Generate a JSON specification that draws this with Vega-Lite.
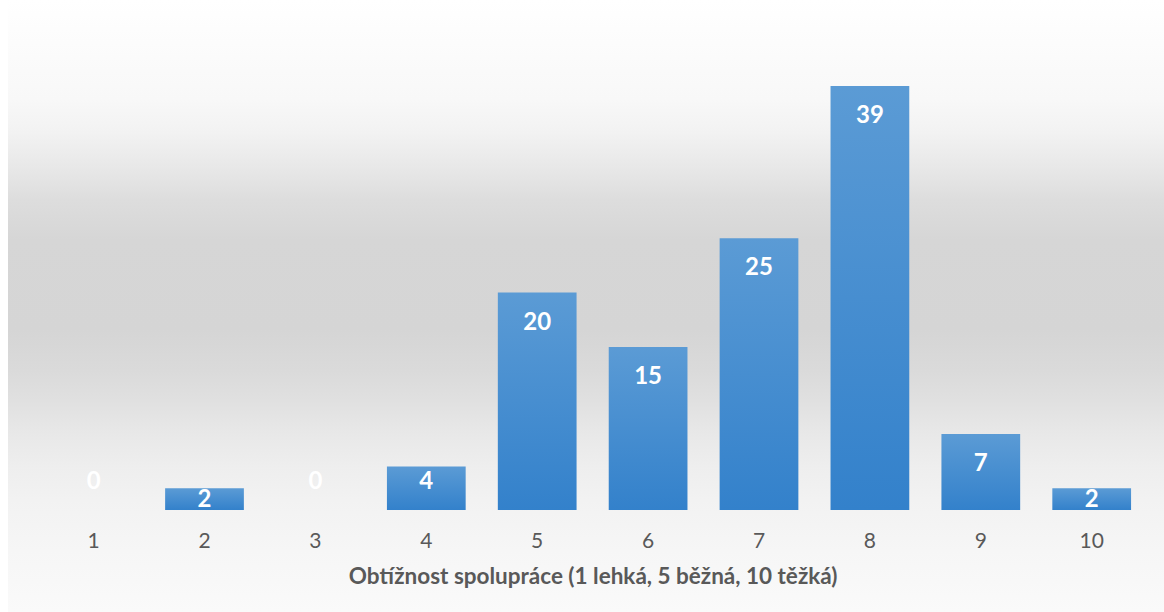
{
  "$schema": "https://vega.github.io/schema/vega-lite/v6.json",
  "width": 1156,
  "height": 612,
  "autosize": "none",
  "padding": {"left": 8, "top": 0, "right": 0, "bottom": 0},
  "background": "#ffffff",
  "view": {
    "stroke": null,
    "fill": {
      "gradient": "linear", "x1": 0, "y1": 0, "x2": 0, "y2": 1,
      "stops": [
        {"offset": 0, "color": "#ffffff"},
        {"offset": 0.163, "color": "#f8f8f8"},
        {"offset": 0.217, "color": "#f2f2f2"},
        {"offset": 0.273, "color": "#e8e8e8"},
        {"offset": 0.327, "color": "#dddddd"},
        {"offset": 0.392, "color": "#d6d6d6"},
        {"offset": 0.539, "color": "#d5d5d5"},
        {"offset": 0.605, "color": "#dadada"},
        {"offset": 0.654, "color": "#e0e0e0"},
        {"offset": 0.708, "color": "#e8e8e8"},
        {"offset": 0.763, "color": "#eeeeee"},
        {"offset": 0.817, "color": "#f2f2f2"},
        {"offset": 0.899, "color": "#f6f6f6"},
        {"offset": 1, "color": "#fafafa"}
      ]
    }
  },
  "data": {
    "values": [
      {"k": "1", "v": 0},
      {"k": "2", "v": 2},
      {"k": "3", "v": 0},
      {"k": "4", "v": 4},
      {"k": "5", "v": 20},
      {"k": "6", "v": 15},
      {"k": "7", "v": 25},
      {"k": "8", "v": 39},
      {"k": "9", "v": 7},
      {"k": "10", "v": 2}
    ]
  },
  "encoding": {
    "x": {
      "field": "k", "type": "ordinal", "sort": null,
      "scale": {"range": [30.15, 1139.15], "paddingInner": 0.29, "paddingOuter": 0.145},
      "axis": {
        "title": "Obtížnost spolupráce (1 lehká, 5 běžná, 10 těžká)",
        "orient": "bottom",
        "offset": -71,
        "domain": false,
        "ticks": false,
        "labelAngle": 0,
        "labelPadding": 0,
        "labelBaseline": "middle",
        "labelFont": "Lato",
        "labelFontSize": 21,
        "labelColor": "#595959",
        "titleFont": "Lato",
        "titleFontSize": 22.5,
        "titleFontWeight": "bold",
        "titleColor": "#595959",
        "titlePadding": 14
      }
    }
  },
  "layer": [
    {
      "mark": {
        "type": "bar",
        "color": {
          "gradient": "linear", "x1": 0, "y1": 0, "x2": 0, "y2": 1,
          "stops": [
            {"offset": 0, "color": "#5b9bd5"},
            {"offset": 1, "color": "#3381cb"}
          ]
        }
      },
      "encoding": {
        "y": {
          "field": "v", "type": "quantitative",
          "scale": {"domain": [-9.382, 46.91], "nice": false, "zero": false},
          "axis": null
        },
        "y2": {"datum": 0}
      }
    },
    {
      "transform": [{"filter": "datum.v >= 5"}],
      "mark": {"type": "text", "color": "#ffffff", "font": "Lato", "fontWeight": "bold", "fontSize": 24, "baseline": "middle", "dy": 30},
      "encoding": {
        "y": {"field": "v", "type": "quantitative"},
        "text": {"field": "v", "type": "quantitative"}
      }
    },
    {
      "transform": [{"filter": "datum.v == 0 || datum.v == 4"}],
      "mark": {"type": "text", "color": "#ffffff", "font": "Lato", "fontWeight": "bold", "fontSize": 24, "baseline": "middle", "dy": -28},
      "encoding": {
        "y": {"datum": 0},
        "text": {"field": "v", "type": "quantitative"}
      }
    },
    {
      "transform": [{"filter": "datum.v == 2"}],
      "mark": {"type": "text", "color": "#ffffff", "font": "Lato", "fontWeight": "bold", "fontSize": 24, "baseline": "middle", "dy": -10},
      "encoding": {
        "y": {"datum": 0},
        "text": {"field": "v", "type": "quantitative"}
      }
    }
  ]
}
